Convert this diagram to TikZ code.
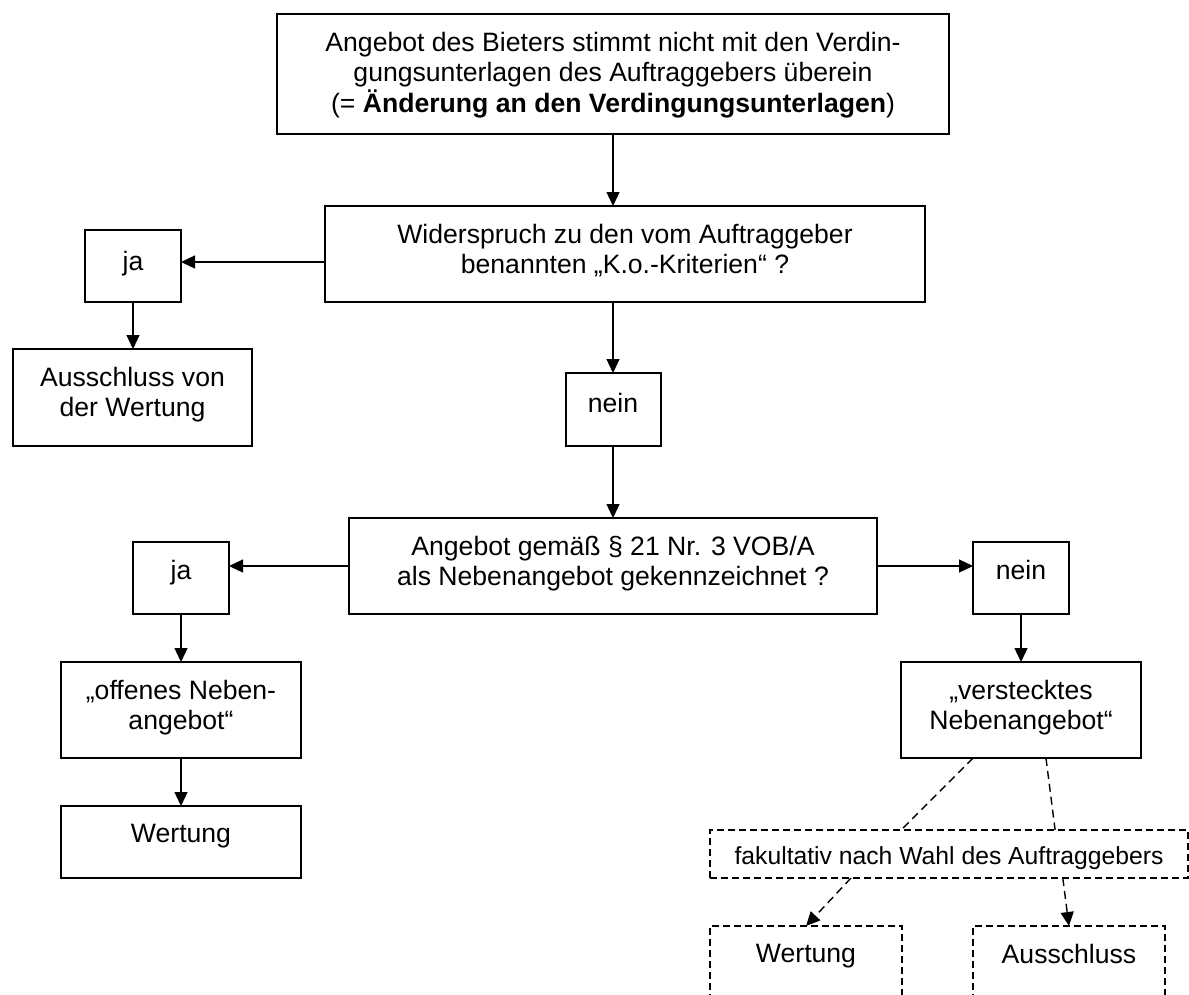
\documentclass[tikz,border=0pt]{standalone}
\usepackage{fontspec}
\setmainfont{Liberation Sans}
\usetikzlibrary{arrows.meta,calc}
\begin{document}
\begin{tikzpicture}[x=1pt,y=-1pt,
  box/.style={draw, line width=2pt, inner sep=0pt, outer sep=0pt},
  dbox/.style={draw, line width=1.6pt, dash pattern=on 7pt off 4pt, inner sep=0pt, outer sep=0pt},
  lbl/.style={anchor=north, inner sep=0pt, align=center, font=\fontsize{26.6}{30.5}\selectfont},
  slbl/.style={anchor=north, inner sep=0pt, align=center, font=\fontsize{24.7}{28.5}\selectfont},
  tip/.style={-{Triangle[length=14pt,width=13pt]}},
  arr/.style={line width=1.3pt, tip},
  dline/.style={line width=1.4pt, dash pattern=on 8pt off 5pt},
  darr/.style={dline, tip}]
\fill[white] (0,0) rectangle (1189,994);
\useasboundingbox (0,0) rectangle (1189,994);
\clip (0,0) rectangle (1189,994);

% boxes
\node[box, minimum width=672pt, minimum height=120pt] (top) at (613,74) {};
\node[box, minimum width=600pt, minimum height=96pt] (wid) at (625,254) {};
\node[box, minimum width=96pt, minimum height=72pt] (ja1) at (133,266) {};
\node[box, minimum width=239pt, minimum height=97pt] (aus1) at (132.5,397.5) {};
\node[box, minimum width=95pt, minimum height=73pt] (nein1) at (613,409.5) {};
\node[box, minimum width=528pt, minimum height=96pt] (geb) at (613,566) {};
\node[box, minimum width=96pt, minimum height=72pt] (ja2) at (181,578) {};
\node[box, minimum width=96pt, minimum height=72pt] (nein2) at (1021,578) {};
\node[box, minimum width=240pt, minimum height=96pt] (off) at (181,710) {};
\node[box, minimum width=240pt, minimum height=72pt] (wer1) at (181,842) {};
\node[box, minimum width=240pt, minimum height=96pt] (vst) at (1021,710) {};
\node[dbox, minimum width=478pt, minimum height=48pt] (fak) at (949,854) {};
\node[dbox, minimum width=192pt, minimum height=120pt] (wer2) at (806,986) {};
\node[dbox, minimum width=192pt, minimum height=120pt] (aus2) at (1069,986) {};

% texts
\node[lbl] at ([yshift=-18pt]top.north) {Angebot des Bieters stimmt nicht mit den Verdin-\\gungsunterlagen des Auftraggebers überein\\(= \textbf{Änderung an den Verdingungsunterlagen})};
\node[lbl] at ([yshift=-18pt]wid.north) {Widerspruch zu den vom Auftraggeber\\benannten „K.o.-Kriterien“ ?};
\node[lbl] at ([yshift=-21pt]ja1.north) {ja};
\node[lbl] at ([yshift=-18pt]aus1.north) {Ausschluss von\\der Wertung};
\node[lbl] at ([yshift=-20pt]nein1.north) {nein};
\node[lbl] at ([yshift=-18pt]geb.north) {Angebot gemäß § 21 Nr. 3 VOB/A\\als Nebenangebot gekennzeichnet ?};
\node[lbl] at ([yshift=-18pt]ja2.north) {ja};
\node[lbl] at ([yshift=-18pt]nein2.north) {nein};
\node[lbl] at ([yshift=-18pt]off.north) {„offenes Neben-\\angebot“};
\node[lbl] at ([yshift=-18pt]wer1.north) {Wertung};
\node[lbl] at ([yshift=-18pt]vst.north) {„verstecktes\\Nebenangebot“};
\node[slbl] at ([yshift=-16pt]fak.north) {fakultativ nach Wahl des Auftraggebers};
\node[lbl] at ([yshift=-18pt]wer2.north) {Wertung};
\node[lbl] at ([yshift=-18pt]aus2.north) {Ausschluss};

% connectors
\coordinate (row1) at (0,262);
\draw[arr] (top.south) -- (top.south |- wid.north);
\draw[arr] (wid.west |- row1) -- (ja1.east |- row1);
\draw[arr] (ja1.south) -- (ja1.south |- aus1.north);
\draw[arr] (nein1.north |- wid.south) -- (nein1.north);
\draw[arr] (nein1.south) -- (nein1.south |- geb.north);
\draw[arr] (geb.west) -- (geb.west -| ja2.east);
\draw[arr] (geb.east) -- (geb.east -| nein2.west);
\draw[arr] (ja2.south) -- (ja2.south |- off.north);
\draw[arr] (off.south) -- (wer1.north);
\draw[arr] (nein2.south) -- (nein2.south |- vst.north);
\draw[dline] ($(vst.south west)!0.30!(vst.south east)$) -- ($(fak.north west)!0.40!(fak.north east)$);
\draw[dline] ($(vst.south west)!0.604!(vst.south east)$) -- ($(fak.north west)!0.722!(fak.north east)$);
\draw[darr] ($(fak.south west)!0.295!(fak.south east)$) -- (wer2.north);
\draw[darr] ($(fak.south west)!0.738!(fak.south east)$) -- (aus2.north);
\end{tikzpicture}
\end{document}
